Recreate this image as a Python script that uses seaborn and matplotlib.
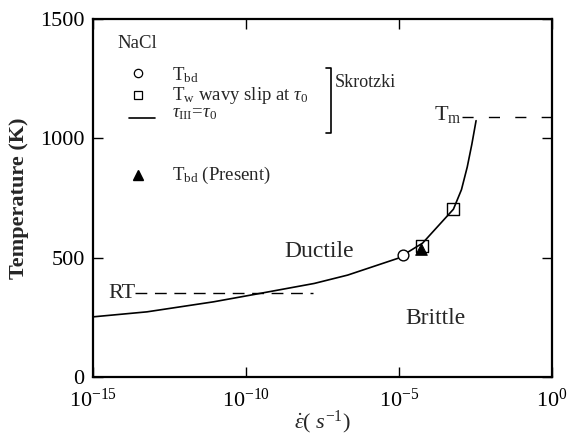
import numpy as np
import pandas as pd
import matplotlib
matplotlib.use("Agg")
import matplotlib.pyplot as plt
from matplotlib.ticker import NullLocator, FixedLocator
import seaborn as sns

# ---- data ----
curve_rate = [1e-15, 5.8e-14, 8.7e-12, 2.3e-10, 1.7e-8, 2.1e-7, 9.1e-6,
              5.9e-5, 6.0e-4, 1.1e-3, 1.7e-3, 2.4e-3, 3.3e-3]
curve_T = [252, 273, 315, 348, 392, 427, 497, 561, 703, 785, 880, 975, 1074]

tbd_rate = [1.35e-5]
tbd_T = [511]
tw_rate = [5.6e-5, 5.9e-4]
tw_T = [550, 702]
present_rate = [5.2e-5]
present_T = [537]

RT_T = 350
RT_range = [2.4e-14, 1.6e-8]
Tm_T = 1090
Tm_range = [1.15e-3, 1.6]

x_ticks = [1e-15, 1e-10, 1e-5, 1]
y_ticks = [0, 500, 1000, 1500]

sns.set_theme(style="ticks")
plt.rcParams["font.family"] = ["Liberation Serif", "DejaVu Serif"]
plt.rcParams["mathtext.fontset"] = "custom"
plt.rcParams["mathtext.rm"] = "Liberation Serif"
plt.rcParams["mathtext.it"] = "Liberation Serif:italic"
plt.rcParams["mathtext.bf"] = "Liberation Serif:bold"

fig = plt.figure(figsize=(5.7, 4.37), dpi=100)
ax = fig.add_axes([93 / 570, 1 - 377 / 437, 459 / 570, 358 / 437])

curve_df = pd.DataFrame({"rate": curve_rate, "T": curve_T})
sns.lineplot(data=curve_df, x="rate", y="T", sort=False, color="black",
             lw=1.2, ax=ax, clip_on=False)
sns.scatterplot(x=tbd_rate, y=tbd_T, marker="o", s=60, facecolor="white",
                edgecolor="black", linewidth=1.0, ax=ax, zorder=5)
sns.scatterplot(x=tw_rate, y=tw_T, marker="s", s=75, facecolor="none",
                edgecolor="black", linewidth=1.0, ax=ax, zorder=5)
sns.scatterplot(x=present_rate, y=present_T, marker="^", s=70, color="black",
                edgecolor="black", ax=ax, zorder=6)

ax.plot(RT_range, [RT_T, RT_T], color="black", lw=1.0, dashes=(8.5, 5.5))
ax.plot(Tm_range, [Tm_T, Tm_T], color="black", lw=1.0, dashes=(8, 11),
        clip_on=False)

ax.set_xscale("log")
ax.set_xlim(1e-15, 1)
ax.set_ylim(0, 1500)
ax.xaxis.set_major_locator(FixedLocator(x_ticks))
ax.xaxis.set_minor_locator(NullLocator())
ax.set_yticks(y_ticks)

for s in ax.spines.values():
    s.set_linewidth(1.6)
    s.set_color("black")
ax.tick_params(direction="in", length=7, width=1.0, top=True, right=True,
               labelsize=16, colors="black")
ax.tick_params(axis="x", pad=8.5)
ax.tick_params(axis="y", pad=6)

ax.set_ylabel("Temperature (K)", fontsize=16, fontweight="bold", labelpad=8)
ax.set_xlabel(r"$\dot{\varepsilon}$( $s^{-1}$)", fontsize=16, labelpad=-2)

# region labels
ax.text(10 ** -13.62, RT_T, "RT", fontsize=16, ha="right", va="center")
ax.text(10 ** -2.95, 1098, r"T$_{\rm m}$", fontsize=16, ha="right", va="center")
ax.text(10 ** -7.62, 524, "Ductile", fontsize=17, ha="center", va="center")
ax.text(10 ** -3.82, 247, "Brittle", fontsize=17, ha="center", va="center")

# legend block (axes fractions)
tr = ax.transAxes
fs = 13.5
ax.text(0.0523, 0.919, "NaCl", fontsize=fs, ha="left", va="baseline", transform=tr)
ax.plot([0.098], [0.849], marker="o", ms=6, mfc="white", mec="black", mew=0.9,
        transform=tr, ls="none")
ax.plot([0.098], [0.7877], marker="s", ms=6, mfc="white", mec="black", mew=0.9,
        transform=tr, ls="none")
ax.plot([0.0784, 0.1351], [0.7235, 0.7235], color="black", lw=1.2, transform=tr)
ax.plot([0.098], [0.5642], marker="^", ms=7, color="black", transform=tr, ls="none")
ax.text(0.1721, 0.8296, r"T$_{\rm bd}$", fontsize=fs, ha="left", va="baseline", transform=tr)
ax.text(0.1721, 0.7737, r"T$_{\rm w}$ wavy slip at $\tau_0$", fontsize=fs,
        ha="left", va="baseline", transform=tr)
ax.text(0.1721, 0.7263, r"$\tau_{\rm III}$=$\tau_0$", fontsize=fs, ha="left",
        va="baseline", transform=tr)
ax.text(0.1721, 0.5503, r"T$_{\rm bd}$ (Present)", fontsize=fs, ha="left",
        va="baseline", transform=tr)
ax.plot([0.5076, 0.5185, 0.5185, 0.5076], [0.8631, 0.8631, 0.6816, 0.6816],
        color="black", lw=1.2, transform=tr)
ax.text(0.5272, 0.824, "Skrotzki", fontsize=13, ha="left", va="center", transform=tr)

fig.savefig("out.png", dpi=100)
